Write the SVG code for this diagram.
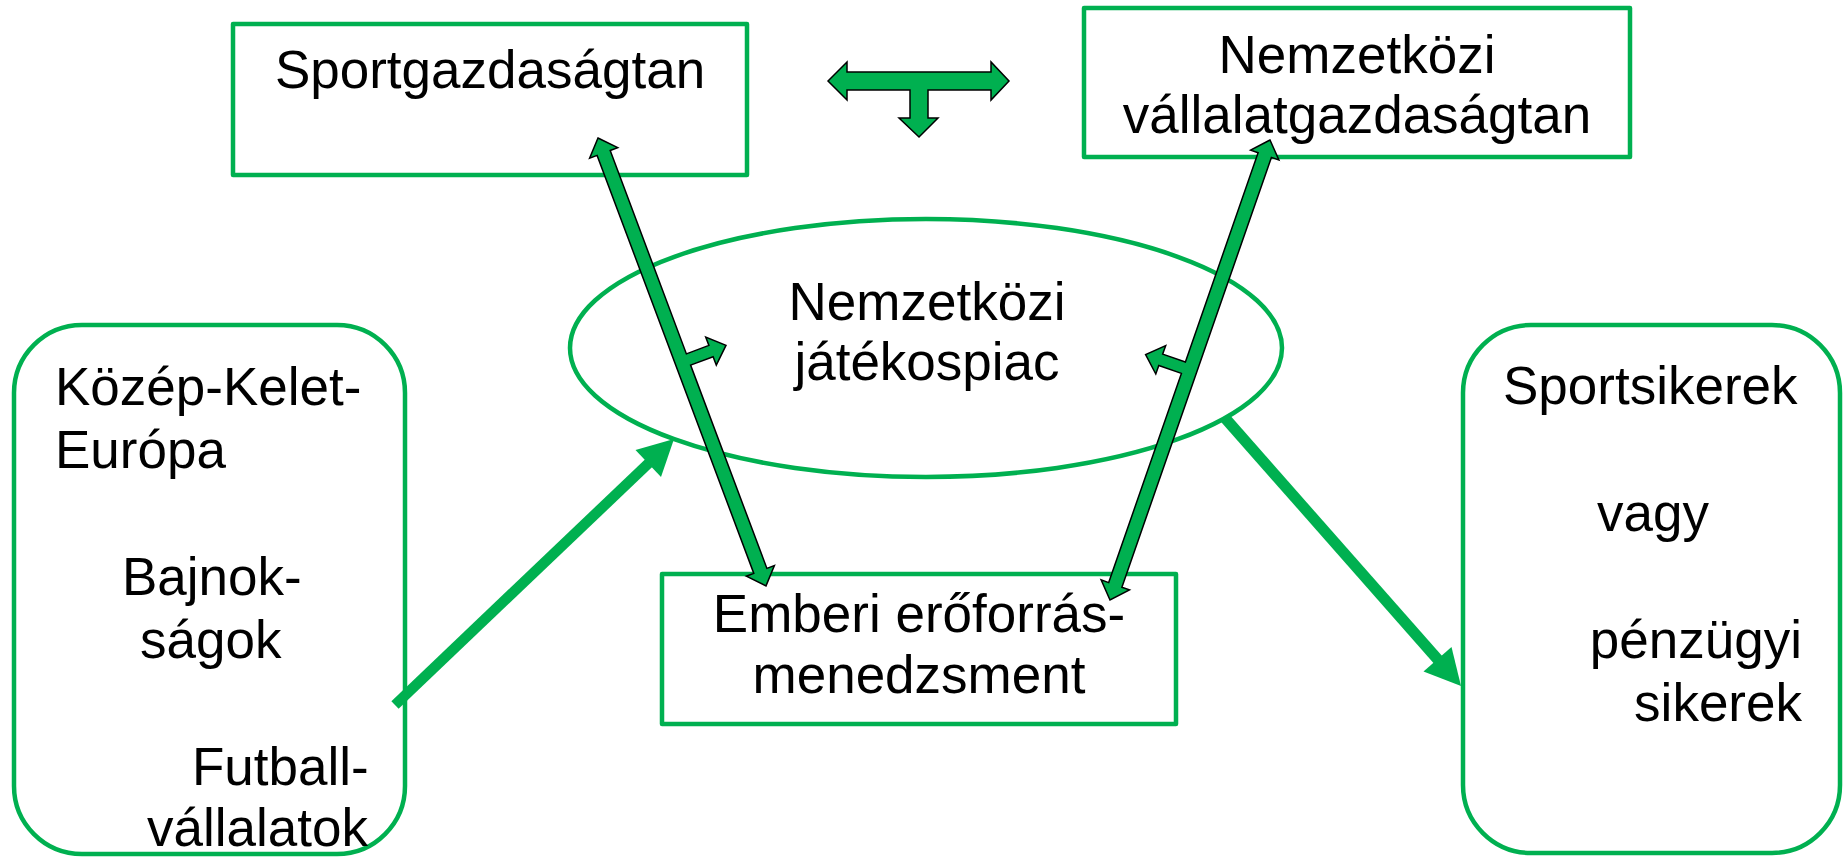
<svg xmlns="http://www.w3.org/2000/svg" width="1843" height="857" viewBox="0 0 1843 857">
<style>
.box{fill:#fff;stroke:#00B050;stroke-width:4.5;stroke-linejoin:round}
.t{font-family:"Liberation Sans",Arial,sans-serif;font-size:53px;fill:#000}
.c{text-anchor:middle}
.r{text-anchor:end}
.blk{fill:#00B050;stroke:#000;stroke-width:1.5;stroke-linejoin:miter}
.thick{stroke:#00B050;fill:none}
.head{fill:#00B050;stroke:none}
</style>
<rect width="1843" height="857" fill="#fff"/>
<g id="sportgazdasagtan">
<rect class="box" x="233" y="24" width="514" height="151"/>
<text class="t c" x="490" y="88">Sportgazdaságtan</text>
</g>
<g id="nemzetkozi-vallalat">
<rect class="box" x="1084" y="8" width="546" height="149"/>
<text class="t c" x="1357" y="73">Nemzetközi</text>
<text class="t c" x="1357" y="133">vállalatgazdaságtan</text>
</g>
<g id="jatekospiac">
<ellipse cx="926" cy="348" rx="356" ry="129" fill="#fff" stroke="#00B050" stroke-width="4.5"/>
<text class="t c" x="927" y="320">Nemzetközi</text>
<text class="t c" x="927" y="380">játékospiac</text>
</g>
<g id="emberi">
<rect class="box" x="662" y="574" width="514" height="150"/>
<text class="t c" x="919" y="632">Emberi erőforrás-</text>
<text class="t c" x="919" y="693">menedzsment</text>
</g>
<g id="kke">
<rect class="box" x="14" y="325" width="391" height="529" rx="68" ry="68"/>
<text class="t" x="55" y="405">Közép-Kelet-</text>
<text class="t" x="55" y="468">Európa</text>
<text class="t" x="122" y="595">Bajnok-</text>
<text class="t" x="140" y="658">ságok</text>
<text class="t" x="192" y="785">Futball-</text>
<text class="t" x="147" y="846">vállalatok</text>
</g>
<g id="sikerek">
<rect class="box" x="1463" y="325" width="377" height="528" rx="68" ry="68"/>
<text class="t" x="1503" y="404">Sportsikerek</text>
<text class="t" x="1597" y="531">vagy</text>
<text class="t r" x="1802" y="658">pénzügyi</text>
<text class="t r" x="1802" y="721">sikerek</text>
</g>
<g id="connectors">
<polygon class="blk" points="828,81 847,62 847,72 991,72 991,62 1009,81 991,100 991,90 928,90 928,118 938,118 919,137 899,118 910,118 910,90 847,90 847,100"/>
<polygon class="blk" points="598,138 617.7,147.7 610.2,150.5 686.4,353.9 708.9,345.4 705.7,337.0 726.0,345.4 716.3,365.1 713.1,356.7 690.6,365.1 766.9,568.4 774.4,565.6 766,585.9 746.3,576.2 753.8,573.4 597.1,155.4 589.6,158.2"/>
<polygon class="blk" points="1270,140 1250.6,150.2 1258.1,152.8 1185.4,362.0 1162.7,354.1 1165.7,345.6 1145.6,354.6 1155.8,374.0 1158.8,365.5 1181.4,373.4 1108.7,582.6 1101.1,579.9 1110,600 1129.5,589.8 1121.9,587.2 1271.4,157.4 1278.9,160.0"/>
<line class="thick" x1="395" y1="705" x2="652" y2="460" stroke-width="10.5"/>
<polygon class="head" points="674,439 661,477 635.5,450"/>
<line class="thick" x1="1225" y1="418" x2="1440" y2="662" stroke-width="11"/>
<polygon class="head" points="1461,686 1451.5,647 1423.5,671.5"/>
</g>
</svg>
